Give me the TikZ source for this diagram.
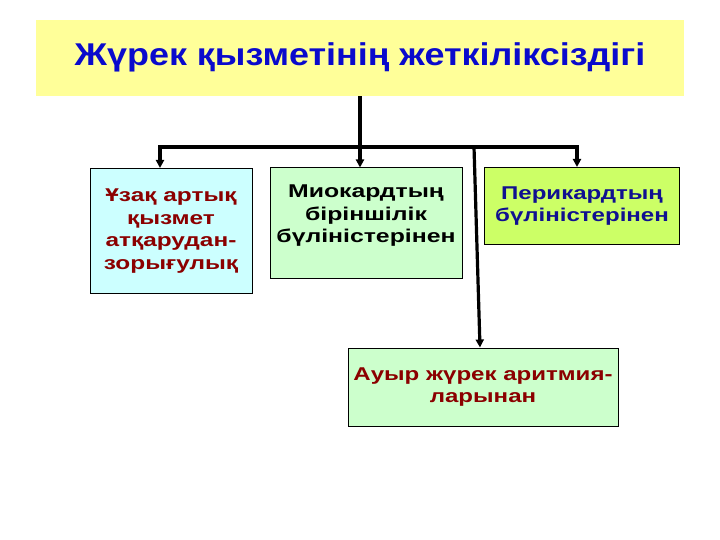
\documentclass[tikz,border=0pt]{standalone}
\usepackage{fontspec}
\usepackage{graphicx}
\setmainfont{Liberation Sans}
\usetikzlibrary{arrows.meta}
\definecolor{titlefill}{HTML}{FFFF99}
\definecolor{titleblue}{HTML}{0A0ACC}
\definecolor{cyanfill}{HTML}{CCFFFF}
\definecolor{greenfill}{HTML}{CCFFCC}
\definecolor{limefill}{HTML}{CCFF66}
\definecolor{darkred}{HTML}{8B0000}
\definecolor{darkblue}{HTML}{101090}
\newcommand{\strlines}[2]{\scalebox{#1}[1]{\begin{tabular}{@{}c@{}}#2\end{tabular}}}
\tikzset{
  boxnode/.style={draw=black, line width=1pt, inner sep=0pt},
  boxtext/.style={align=center, inner sep=0pt,
    font=\fontsize{18.5}{22.5}\selectfont\bfseries},
  conn/.style={line width=3.2pt, black},
  arr/.style={conn, -{Triangle[length=8pt,width=8pt]}}
}
\begin{document}
\begin{tikzpicture}[x=1pt,y=-1pt]
\useasboundingbox (0,0) rectangle (720,540);
\node[fill=titlefill, minimum width=648pt, minimum height=76pt, inner sep=0pt] (title) at (360,58) {};
\node[inner sep=0pt, text=titleblue,
  font=\fontsize{31.5}{36}\selectfont\bfseries] (titlet) at (title.center)
  {\strlines{1.14}{Жүрек қызметінің жеткіліксіздігі}};
\node[boxnode, fill=cyanfill, minimum width=162pt, minimum height=125pt] (b1) at (171,231) {};
\node[boxtext, text=darkred] (b1t) at (b1.center)
  {\strlines{1.32}{Ұзақ артық\\қызмет\\атқарудан-\\зорығулық}};
\node[boxnode, fill=greenfill, minimum width=192pt, minimum height=110pt] (b2) at (366,223) {};
\node[boxtext, text=black] (b2t) at ([yshift=7pt]b2.center)
  {\strlines{1.34}{Миокардтың\\біріншілік\\бүліністерінен}};
\node[boxnode, fill=limefill, minimum width=195pt, minimum height=77pt] (b3) at (582,206) {};
\node[boxtext, text=darkblue] (b3t) at (b3.center)
  {\strlines{1.3}{Перикардтың\\бүліністерінен}};
\node[boxnode, fill=greenfill, minimum width=270pt, minimum height=78pt] (b4) at (483,387) {};
\node[boxtext, text=darkred] (b4t) at (b4.center)
  {\strlines{1.3}{Ауыр жүрек аритмия-\\ларынан}};
\coordinate (jL) at (160,147);
\coordinate (jM) at (360,147);
\coordinate (jA) at (474,147);
\coordinate (jR) at (577,147);
\draw[conn] (title.south -| jM) -- (jM);
\draw[conn, line cap=rect] (jL) -- (jR);
\draw[arr] (jL) -- (jL |- b1.north);
\draw[arr] (jM) -- (jM |- b2.north);
\draw[arr] (jR) -- (jR |- b3.north);
\draw[arr] (jA) -- (480,0 |- b4.north);
\end{tikzpicture}
\end{document}
